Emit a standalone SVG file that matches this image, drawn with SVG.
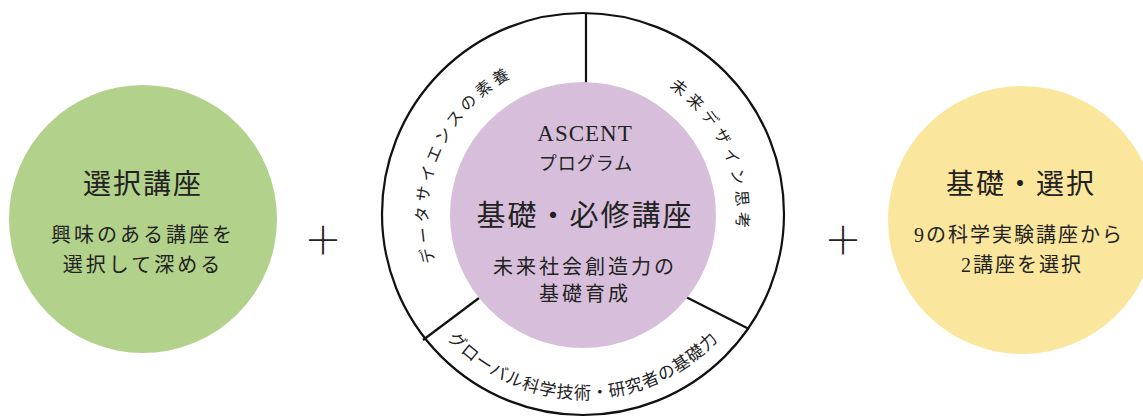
<svg xmlns="http://www.w3.org/2000/svg" width="1143" height="418" viewBox="0 0 1143 418">
<defs>
<style>
text{font-family:"Liberation Serif","Noto Sans CJK JP",serif;fill:#222;text-anchor:middle}
.t1{font-size:28px;letter-spacing:2px}
.t2{font-size:20px;letter-spacing:3px}
.ring{font-size:16px;letter-spacing:4px}
.plus{font-family:"Noto Sans CJK JP",sans-serif;font-size:38px;font-weight:300}
.ln{stroke:#111;stroke-width:2.2;fill:none}
</style>
<path id="arcL" d="M 477.3 328.4 A 155 155 0 0 1 591.1 60.2"/>
<path id="arcR" d="M 597.2 61.7 A 154 154 0 0 1 708.7 304.0"/>
<path id="arcB" d="M 401.8 246.9 A 184 184 0 0 0 764.2 246.9"/>
</defs>
<rect width="1143" height="418" fill="#fff"/>
<g id="left-node">
<circle cx="143" cy="219" r="134" fill="#b2d18a"/>
<text class="t1" x="143" y="194">選択講座</text>
<text class="t2" x="143" y="242">興味のある講座を</text>
<text class="t2" x="143" y="272">選択して深める</text>
</g>
<g id="plus-left"><text class="plus" x="323" y="254">＋</text></g>
<g id="ascent-node">
<circle cx="583" cy="214" r="201" fill="#fff" class="ln"/>
<g id="connectors">
<line class="ln" x1="586" y1="13" x2="586" y2="84"/>
<line class="ln" x1="423" y1="340" x2="479" y2="298"/>
<line class="ln" x1="686" y1="297" x2="749" y2="329"/>
</g>
<circle cx="583" cy="215" r="133" fill="#d7bfdb"/>
<text x="585" y="141" style="font-size:23px;letter-spacing:1px">ASCENT</text>
<text x="586" y="170" style="font-size:18px;letter-spacing:1px">プログラム</text>
<text x="585" y="226" style="font-size:29px;letter-spacing:2px">基礎・必修講座</text>
<text class="t2" x="585" y="274" style="letter-spacing:3px">未来社会創造力の</text>
<text class="t2" x="585" y="301" style="letter-spacing:3px">基礎育成</text>
<text class="ring"><textPath href="#arcL" startOffset="50%">データサイエンスの素養</textPath></text>
<text class="ring" style="letter-spacing:5px"><textPath href="#arcR" startOffset="50%">未来デザイン思考</textPath></text>
<text class="ring" style="font-size:17px;letter-spacing:1px"><textPath href="#arcB" startOffset="50%">グローバル科学技術・研究者の基礎力</textPath></text>
</g>
<g id="plus-right"><text class="plus" x="843" y="254">＋</text></g>
<g id="right-node">
<circle cx="1022" cy="220" r="134" fill="#fae69c"/>
<text class="t1" x="1021" y="194">基礎・選択</text>
<text class="t2" x="1019" y="242" style="letter-spacing:2px">9の科学実験講座から</text>
<text class="t2" x="1022" y="272" style="letter-spacing:2px">2講座を選択</text>
</g>
</svg>
